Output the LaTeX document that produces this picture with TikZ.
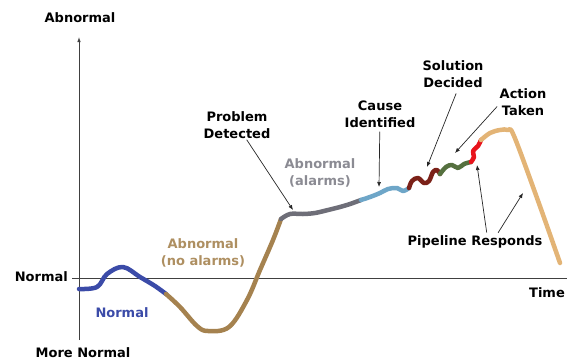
\documentclass[tikz,border=0pt]{standalone}
\usepackage{fontspec}
\setmainfont{DejaVu Sans}
\usepackage{tikz}
\usetikzlibrary{arrows.meta}

\definecolor{normblue}{HTML}{3B4BA8}
\definecolor{noalarm}{HTML}{A5824F}
\definecolor{alarmgray}{HTML}{6E6E78}
\definecolor{causeblue}{HTML}{6EA6C8}
\definecolor{solred}{HTML}{7B2118}
\definecolor{actgreen}{HTML}{55703F}
\definecolor{actred}{HTML}{E8141C}
\definecolor{resptan}{HTML}{E3B476}

\begin{document}
\begin{tikzpicture}[x=1pt, y=-1pt,
	lbl/.style={font=\fontsize{13}{17}\selectfont\bfseries, align=center, inner sep=1pt},
	pointer/.style={-{Latex[length=5pt,width=4pt]}, line width=0.7pt, black!85},
	axis/.style={line width=0.8pt, black!75},
	seg/.style={line width=4.5pt, line cap=round, line join=round}]
	\useasboundingbox (0,0) rectangle (567,362);

	%Aksene
	\coordinate (ybot) at (79,340);
	\coordinate (ytop) at (79,37);
	\coordinate (xleft) at (72,278);
	\coordinate (xright) at (567,278);
	\draw[axis, -{Latex[length=5pt,width=3.5pt]}] (ybot) -- (ytop);
	\draw[axis] (xleft) -- (xright);
	\node[lbl] (abn) at (80,18) {Abnormal};
	\node[lbl, anchor=east] (norm) at (69,277) {Normal};
	\node[lbl] (morenorm) at (83,353) {More Normal};
	\node[lbl] (time) at (547,293) {Time};

	%Kurven
	\draw[seg, normblue] plot[smooth, tension=0.6] coordinates {(79,289) (97,287) (107,274) (123,267) (140,277) (155,286) (166,294)};
	\draw[seg, noalarm] plot[smooth, tension=0.6] coordinates {(166,294) (180,307) (197,326) (208,331) (229,327) (247,300) (260,270) (273,240) (281,219)};
	\draw[seg, alarmgray] plot[smooth, tension=0.6] coordinates {(281,219) (290,214) (303,214) (315,213) (328,210) (340,207) (350,204) (361,200)};
	\draw[seg, causeblue] plot[smooth, tension=0.6] coordinates {(361,200) (370,197) (380,193) (388,189) (397,188) (403,191) (409,188)};
	\draw[seg, solred] plot[smooth, tension=0.6] coordinates {(409,188) (412,181) (418,178) (424,183) (429,181) (433,172) (437,170) (440,174)};
	\draw[seg, actgreen] plot[smooth, tension=0.6] coordinates {(440,174) (446,167) (452,165) (458,168) (464,164) (471,162)};
	\draw[seg, actred] plot[smooth, tension=0.6] coordinates {(471,162) (474,157) (473,151) (478,146) (481,140)};
	\draw[seg, resptan] plot[smooth, tension=0.6] coordinates {(481,140) (490,133) (500,130) (508,130) (514,136) (537,198) (560,263)};

	%Tekst paa kurven
	\node[lbl, normblue] (lnormal) at (122,313) {Normal};
	\node[lbl, noalarm!90!white] (lnoalarm) at (203,253) {Abnormal\\(no alarms)};
	\node[lbl, alarmgray!80!white] (lalarm) at (320,173) {Abnormal\\(alarms)};

	%Merkelapper med piler
	\coordinate (pdtip) at (293,210);
	\coordinate (citip) at (379,187);
	\coordinate (sdtip) at (427,167);
	\coordinate (attip) at (455,153);
	\coordinate (pr1tip) at (477,165);
	\coordinate (pr2tip) at (523,193);

	\node[lbl] (pd) at (237,125) {Problem\\Detected};
	\node[lbl] (ci) at (380,114) {Cause\\Identified};
	\node[lbl] (sd) at (453,74) {Solution\\Decided};
	\node[lbl] (at) at (523,102) {Action\\Taken};
	\node[lbl] (pr) at (475,242) {Pipeline Responds};

	\draw[pointer] (pd) -- (pdtip);
	\draw[pointer, shorten <=3pt] (ci) -- (citip);
	\draw[pointer, shorten <=5pt] ([xshift=5pt]sd.south) -- (sdtip);
	\draw[pointer, shorten <=2pt] ([yshift=-3pt]at.west) -- (attip);
	\draw[pointer, shorten <=2pt] ([xshift=12pt]pr.north) -- (pr1tip);
	\draw[pointer, shorten <=2pt] ([xshift=22pt]pr.north) -- (pr2tip);
\end{tikzpicture}
\end{document}
